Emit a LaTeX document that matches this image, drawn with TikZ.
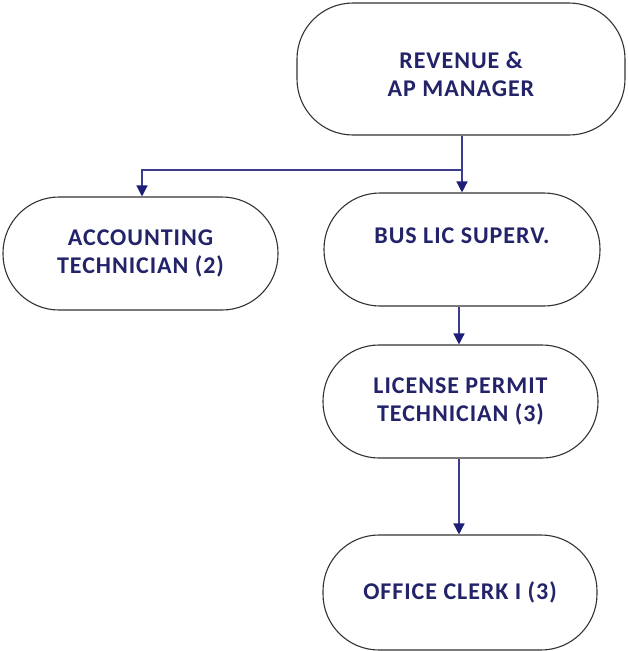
\documentclass[tikz,border=0pt]{standalone}
\usepackage{fontspec}
\setmainfont{Carlito}[LetterSpace=4]
\usetikzlibrary{arrows.meta,positioning}
\definecolor{txtnavy}{HTML}{23236A}
\definecolor{linenavy}{HTML}{3C3C8C}
\definecolor{tipnavy}{HTML}{1E1E78}
\tikzset{
  box/.style={draw=black!80, line width=1.1pt, rounded corners=56pt, fill=white,
    text=txtnavy, font=\fontsize{24}{28}\selectfont\bfseries, align=center,
    inner sep=0pt},
  conn/.style={draw=linenavy, line width=1.4pt,
    -{Triangle[width=11pt,length=11pt,color=tipnavy]}}
}
\begin{document}
\begin{tikzpicture}[x=1pt,y=-1pt]
\useasboundingbox (0,0) rectangle (627,651);
\node[box, minimum width=328pt, minimum height=132pt] (mgr) at (461,69) {\rule{0pt}{28pt}REVENUE \&\\AP MANAGER};
\node[box, minimum width=275pt, minimum height=113pt] (acc) at (140.5,253.5) {ACCOUNTING\\TECHNICIAN (2)};
\node[box, minimum width=276pt, minimum height=113pt] (bus) at (462,249.5) {BUS LIC SUPERV.\\[0pt]~};
\node[box, minimum width=275pt, minimum height=113pt] (lic) at (460.5,401.5) {LICENSE PERMIT\\TECHNICIAN (3)};
\node[box, minimum width=274pt, minimum height=115pt] (clk) at (460,592.5) {OFFICE CLERK I (3)};
\coordinate (j) at (462,170);
\coordinate (accin) at (142,170);
\draw[conn] (mgr.south -| j) -- (bus.north -| j);
\draw[conn] (j) -- (accin) -- (acc.north -| accin);
\draw[conn] (bus.south -| 459,0) -- (lic.north -| 459,0);
\draw[conn] (lic.south -| 459,0) -- (clk.north -| 459,0);
\end{tikzpicture}
\end{document}
